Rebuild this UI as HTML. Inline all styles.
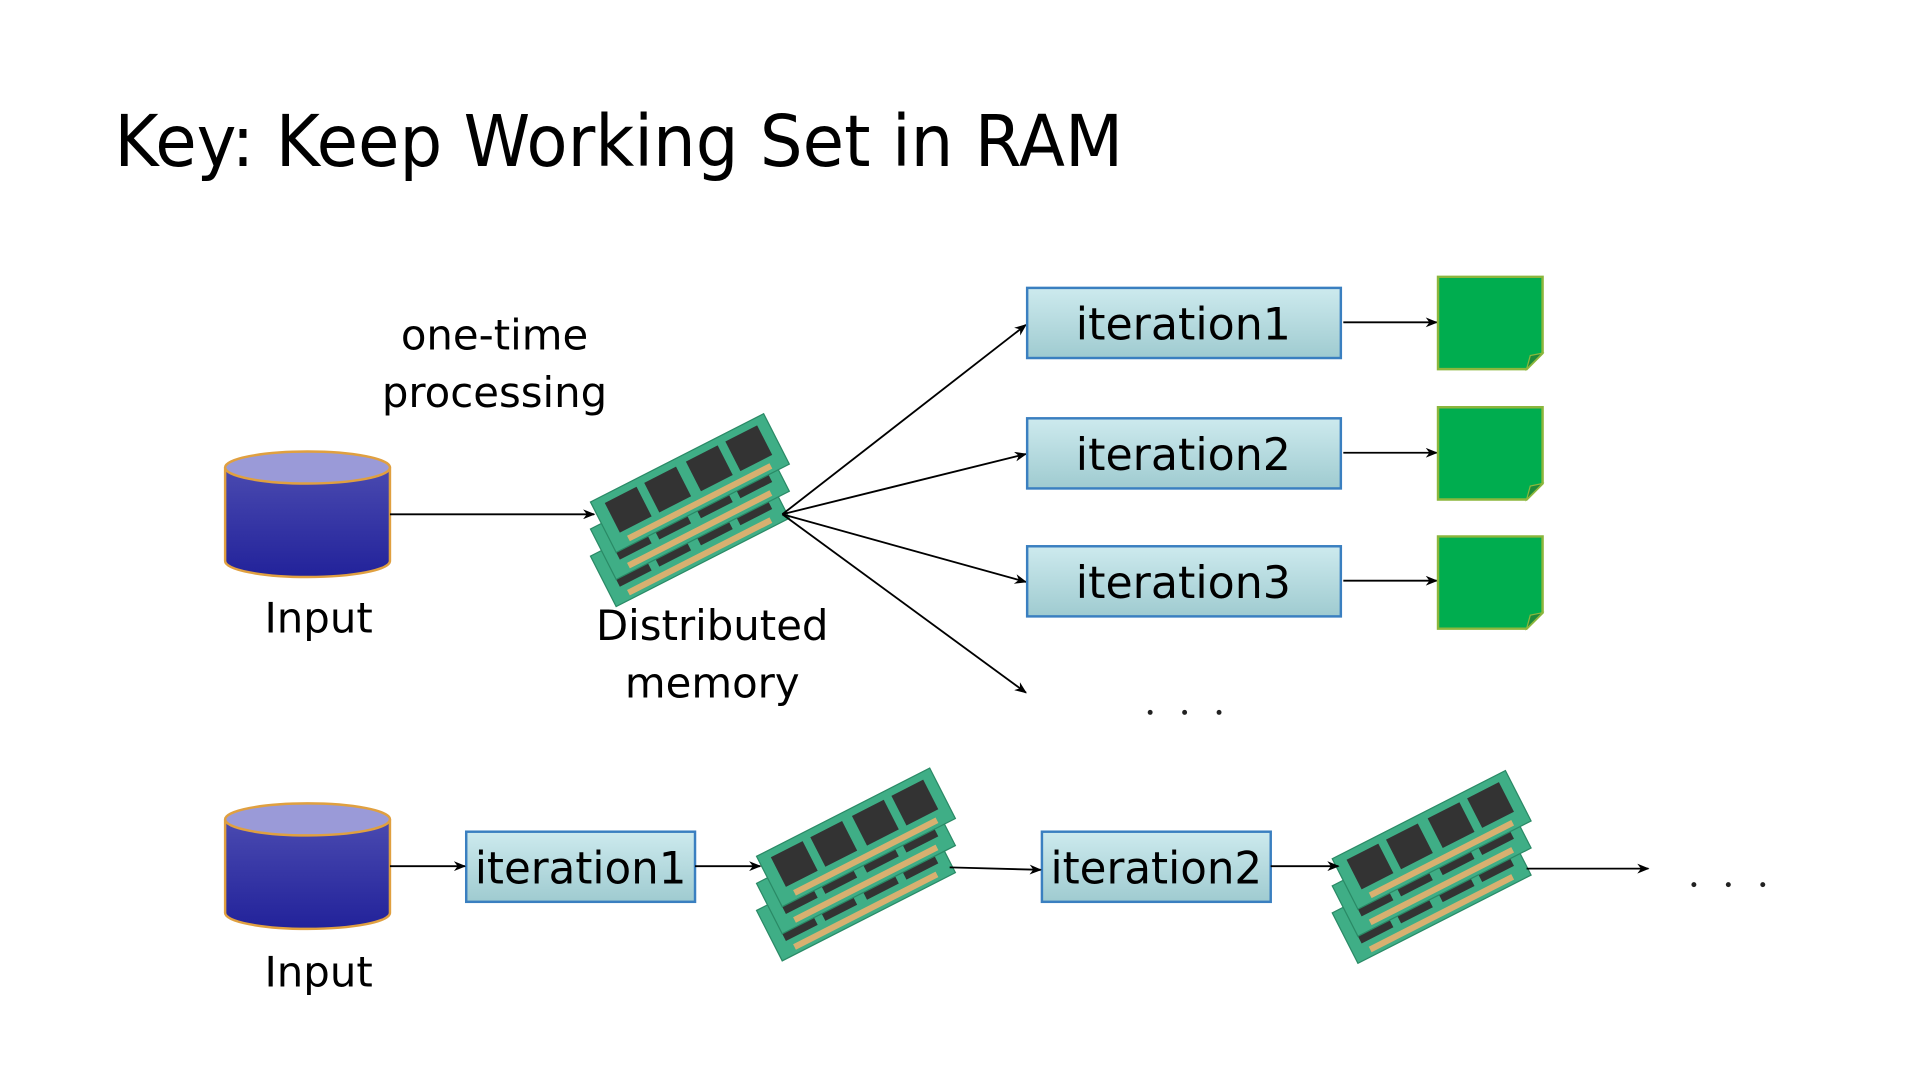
<!DOCTYPE html>
<html><head><meta charset="utf-8"><style>
html,body{margin:0;padding:0;background:#fff;}
svg{display:block;}
text{font-family:"DejaVu Sans","Liberation Sans",sans-serif;fill:#000;}
</style></head><body>
<svg width="1919" height="1079" viewBox="0 0 1560 877" preserveAspectRatio="none" xmlns="http://www.w3.org/2000/svg">
<defs>
<linearGradient id="cyl" x1="0" y1="0" x2="0" y2="1">
<stop offset="0" stop-color="#4a4ab0"/><stop offset="1" stop-color="#22229a"/></linearGradient>
<linearGradient id="box" x1="0" y1="0" x2="0" y2="1">
<stop offset="0" stop-color="#cdeaee"/><stop offset="1" stop-color="#9fcbd0"/></linearGradient>
<marker id="ar" markerWidth="10" markerHeight="8" refX="9" refY="4" orient="auto" markerUnits="userSpaceOnUse">
<path d="M0,0 L10,4 L0,8 L3,4 Z" fill="#000"/></marker>
<g id="board">
<rect x="0" y="0" width="158" height="46" fill="#3fae86" stroke="#2a8a66" stroke-width="1"/>
<rect x="10" y="6" width="29" height="27" fill="#333"/>
<rect x="46" y="6" width="29" height="27" fill="#333"/>
<rect x="84" y="6" width="29" height="27" fill="#333"/>
<rect x="120" y="6" width="29" height="27" fill="#333"/>
<rect x="14" y="38" width="130" height="5" fill="#d8b070"/>
</g>
<g id="ram">
<use href="#board" transform="translate(0,44) rotate(-27)"/>
<use href="#board" transform="translate(0,22) rotate(-27)"/>
<use href="#board" transform="rotate(-27)"/>
</g>
<g id="cylinder">
<path d="M0,14 L0,90 A67,13 0 0 0 134,90 L134,14" fill="url(#cyl)" stroke="#e0a040" stroke-width="2"/>
<ellipse cx="67" cy="14" rx="67" ry="13" fill="#9a9ad8" stroke="#e0a040" stroke-width="2"/>
</g>
<g id="note">
<path d="M0,0 H85 V62 L72,75 H0 Z" fill="#00ad4f" stroke="#8cb63c" stroke-width="2"/>
<path d="M85,62 L72,75 L75,64 Z" fill="#1d8a3a" stroke="#8cb63c" stroke-width="1"/>
</g>
</defs>

<text x="93" y="135" font-size="58" textLength="820" lengthAdjust="spacingAndGlyphs">Key: Keep Working Set in RAM</text>

<use href="#cylinder" x="183" y="366"/>
<text x="259" y="514" font-size="34" text-anchor="middle">Input</text>
<text x="402" y="284" font-size="34" text-anchor="middle">one-time</text>
<text x="402" y="331" font-size="34" text-anchor="middle">processing</text>
<line x1="317" y1="418" x2="483" y2="418" stroke="#000" stroke-width="1.5" marker-end="url(#ar)"/>
<use href="#ram" x="480" y="408"/>
<text x="579" y="520" font-size="34" text-anchor="middle">Distributed</text>
<text x="579" y="567" font-size="34" text-anchor="middle">memory</text>

<g stroke="#000" stroke-width="1.5" marker-end="url(#ar)">
<line x1="636" y1="418" x2="834" y2="264"/>
<line x1="636" y1="418" x2="834" y2="369"/>
<line x1="636" y1="418" x2="834" y2="473"/>
<line x1="636" y1="418" x2="834" y2="563"/>
<line x1="1092" y1="262" x2="1168" y2="262"/>
<line x1="1092" y1="368" x2="1168" y2="368"/>
<line x1="1092" y1="472" x2="1168" y2="472"/>
</g>
<g stroke="#3a7fc0" stroke-width="2" fill="url(#box)">
<rect x="835" y="234" width="255" height="57"/>
<rect x="835" y="340" width="255" height="57"/>
<rect x="835" y="444" width="255" height="57"/>
</g>
<text x="962" y="276" font-size="36" text-anchor="middle">iteration1</text>
<text x="962" y="382" font-size="36" text-anchor="middle">iteration2</text>
<text x="962" y="486" font-size="36" text-anchor="middle">iteration3</text>
<use href="#note" x="1169" y="225"/>
<use href="#note" x="1169" y="331"/>
<use href="#note" x="1169" y="436"/>
<g fill="#222"><circle cx="935" cy="579" r="2"/><circle cx="963" cy="579" r="2"/><circle cx="991" cy="579" r="2"/>
<circle cx="1377" cy="719" r="2"/><circle cx="1405" cy="719" r="2"/><circle cx="1433" cy="719" r="2"/></g>

<use href="#cylinder" x="183" y="652"/>
<text x="259" y="802" font-size="34" text-anchor="middle">Input</text>
<g stroke="#3a7fc0" stroke-width="2" fill="url(#box)">
<rect x="379" y="676" width="186" height="57"/>
<rect x="847" y="676" width="186" height="57"/>
</g>
<text x="472" y="718" font-size="36" text-anchor="middle" textLength="172" lengthAdjust="spacingAndGlyphs">iteration1</text>
<text x="940" y="718" font-size="36" text-anchor="middle" textLength="172" lengthAdjust="spacingAndGlyphs">iteration2</text>
<use href="#ram" x="615" y="696"/>
<use href="#ram" x="1083" y="698"/>
<g stroke="#000" stroke-width="1.5" marker-end="url(#ar)">
<line x1="317" y1="704" x2="378" y2="704"/>
<line x1="565" y1="704" x2="618" y2="704"/>
<line x1="772" y1="705" x2="846" y2="707"/>
<line x1="1033" y1="704" x2="1088" y2="704"/>
<line x1="1241" y1="706" x2="1340" y2="706"/>
</g>
</svg>
</body></html>
